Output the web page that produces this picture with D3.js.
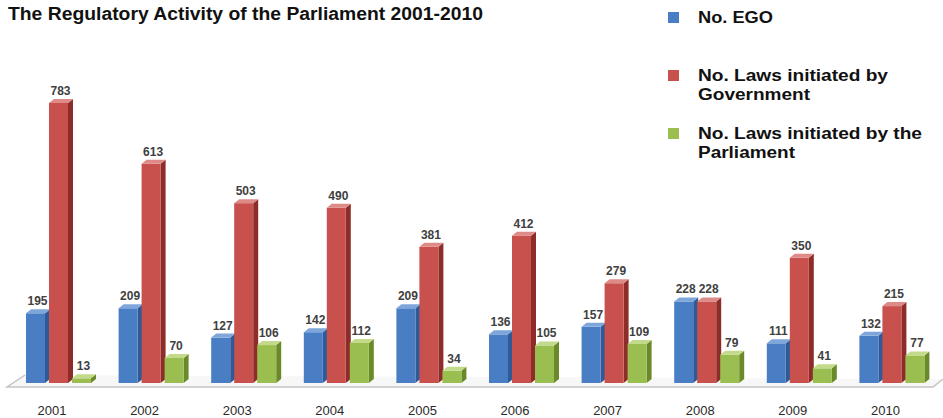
<!DOCTYPE html>
<html><head><meta charset="utf-8">
<script src="https://cdn.jsdelivr.net/npm/d3@7"></script>
<style>body{margin:0;background:#fff}svg{display:block}text{font-family:"Liberation Sans",Arial,sans-serif}</style>
</head><body><svg id="c" width="943" height="418"></svg>
<script>
const years = ['2001','2002','2003','2004','2005','2006','2007','2008','2009','2010'];
const ego  = [195, 209, 127, 142, 209, 136, 157, 228, 111, 132];
const gov  = [783, 613, 503, 490, 381, 412, 279, 228, 350, 215];
const parl = [13, 70, 106, 112, 34, 105, 109, 79, 41, 77];
const seriesNames = ['No. EGO', 'No. Laws initiated by Government', 'No. Laws initiated by the Parliament'];
const legendLines = [['No. EGO'], ['No. Laws initiated by', 'Government'], ['No. Laws initiated by the', 'Parliament']];
const legendWidths = [[75], [190, 112], [224, 97]];
const title = 'The Regulatory Activity of the Parliament 2001-2010';

const colors = [
  {front:'#4A7EC4', side:'#2F5A97', top:'#7FA6DA'},
  {front:'#C8504D', side:'#8E2C29', top:'#DE8A87'},
  {front:'#9BBE50', side:'#6A8A2A', top:'#C2DA8A'}
];
const series = [ego, gov, parl];

const svg = d3.select('#c');
const x0 = d3.scaleBand().domain(years).range([14, 940]).padding(0);
const x1 = d3.scaleBand().domain([0,1,2]).range([12, 77]).paddingInner(0.174).paddingOuter(0);
const y = d3.scaleLinear().domain([0, 783]).range([383, 103]);
const dx = 5, dy = 4;

// floor
svg.append('polyline')
  .attr('points', [[25,375],[7,387],[933,387],[943,379]].map(p=>p.join(',')).join(' '))
  .attr('fill','#f7f7f7').attr('stroke','#c4c4c4').attr('stroke-width',1.5);

const g = svg.append('g');
years.forEach((yr, i) => {
  series.forEach((arr, s) => {
    const v = arr[i];
    const x = x0(yr) + x1(s), w = x1.bandwidth();
    const top = y(v), bot = y(0);
    const c = colors[s];
    const bg = g.append('g');
    bg.append('polygon')
      .attr('points', [[x+w,top],[x+w+dx,top-dy],[x+w+dx,bot-dy],[x+w,bot]].map(p=>p.join(',')).join(' '))
      .attr('fill', c.side);
    bg.append('rect').attr('x', x).attr('y', top).attr('width', w).attr('height', bot-top).attr('fill', c.front);
    bg.append('polygon')
      .attr('points', [[x,top],[x+dx,top-dy],[x+w+dx,top-dy],[x+w,top]].map(p=>p.join(',')).join(' '))
      .attr('fill', c.top);
    bg.append('text').attr('x', x + w/2 + 2).attr('y', top - 8)
      .attr('text-anchor','middle').attr('font-size', 12).attr('font-weight','bold').attr('fill', '#404040').text(v);
  });
  svg.append('text').attr('x', x0(yr) + 38).attr('y', 415).attr('text-anchor','middle')
    .attr('font-size', 13).attr('fill', '#2a2a2a').text(yr);
});

// title
svg.append('text').attr('x', 8).attr('y', 20).attr('font-size', 18).attr('font-weight','bold')
  .attr('fill','#111').attr('textLength', 475).attr('lengthAdjust','spacingAndGlyphs').text(title);

// legend
const legY = [12, 70, 128];
legendLines.forEach((lines, s) => {
  svg.append('rect').attr('x', 668).attr('y', legY[s]).attr('width', 11).attr('height', 11).attr('fill', colors[s].front);
  lines.forEach((l, k) => {
    svg.append('text').attr('x', 698).attr('y', legY[s] + 11 + k * 19).attr('font-size', 16)
      .attr('font-weight','bold').attr('fill','#111')
      .attr('textLength', legendWidths[s][k]).attr('lengthAdjust','spacingAndGlyphs').text(l);
  });
});
</script></body></html>
